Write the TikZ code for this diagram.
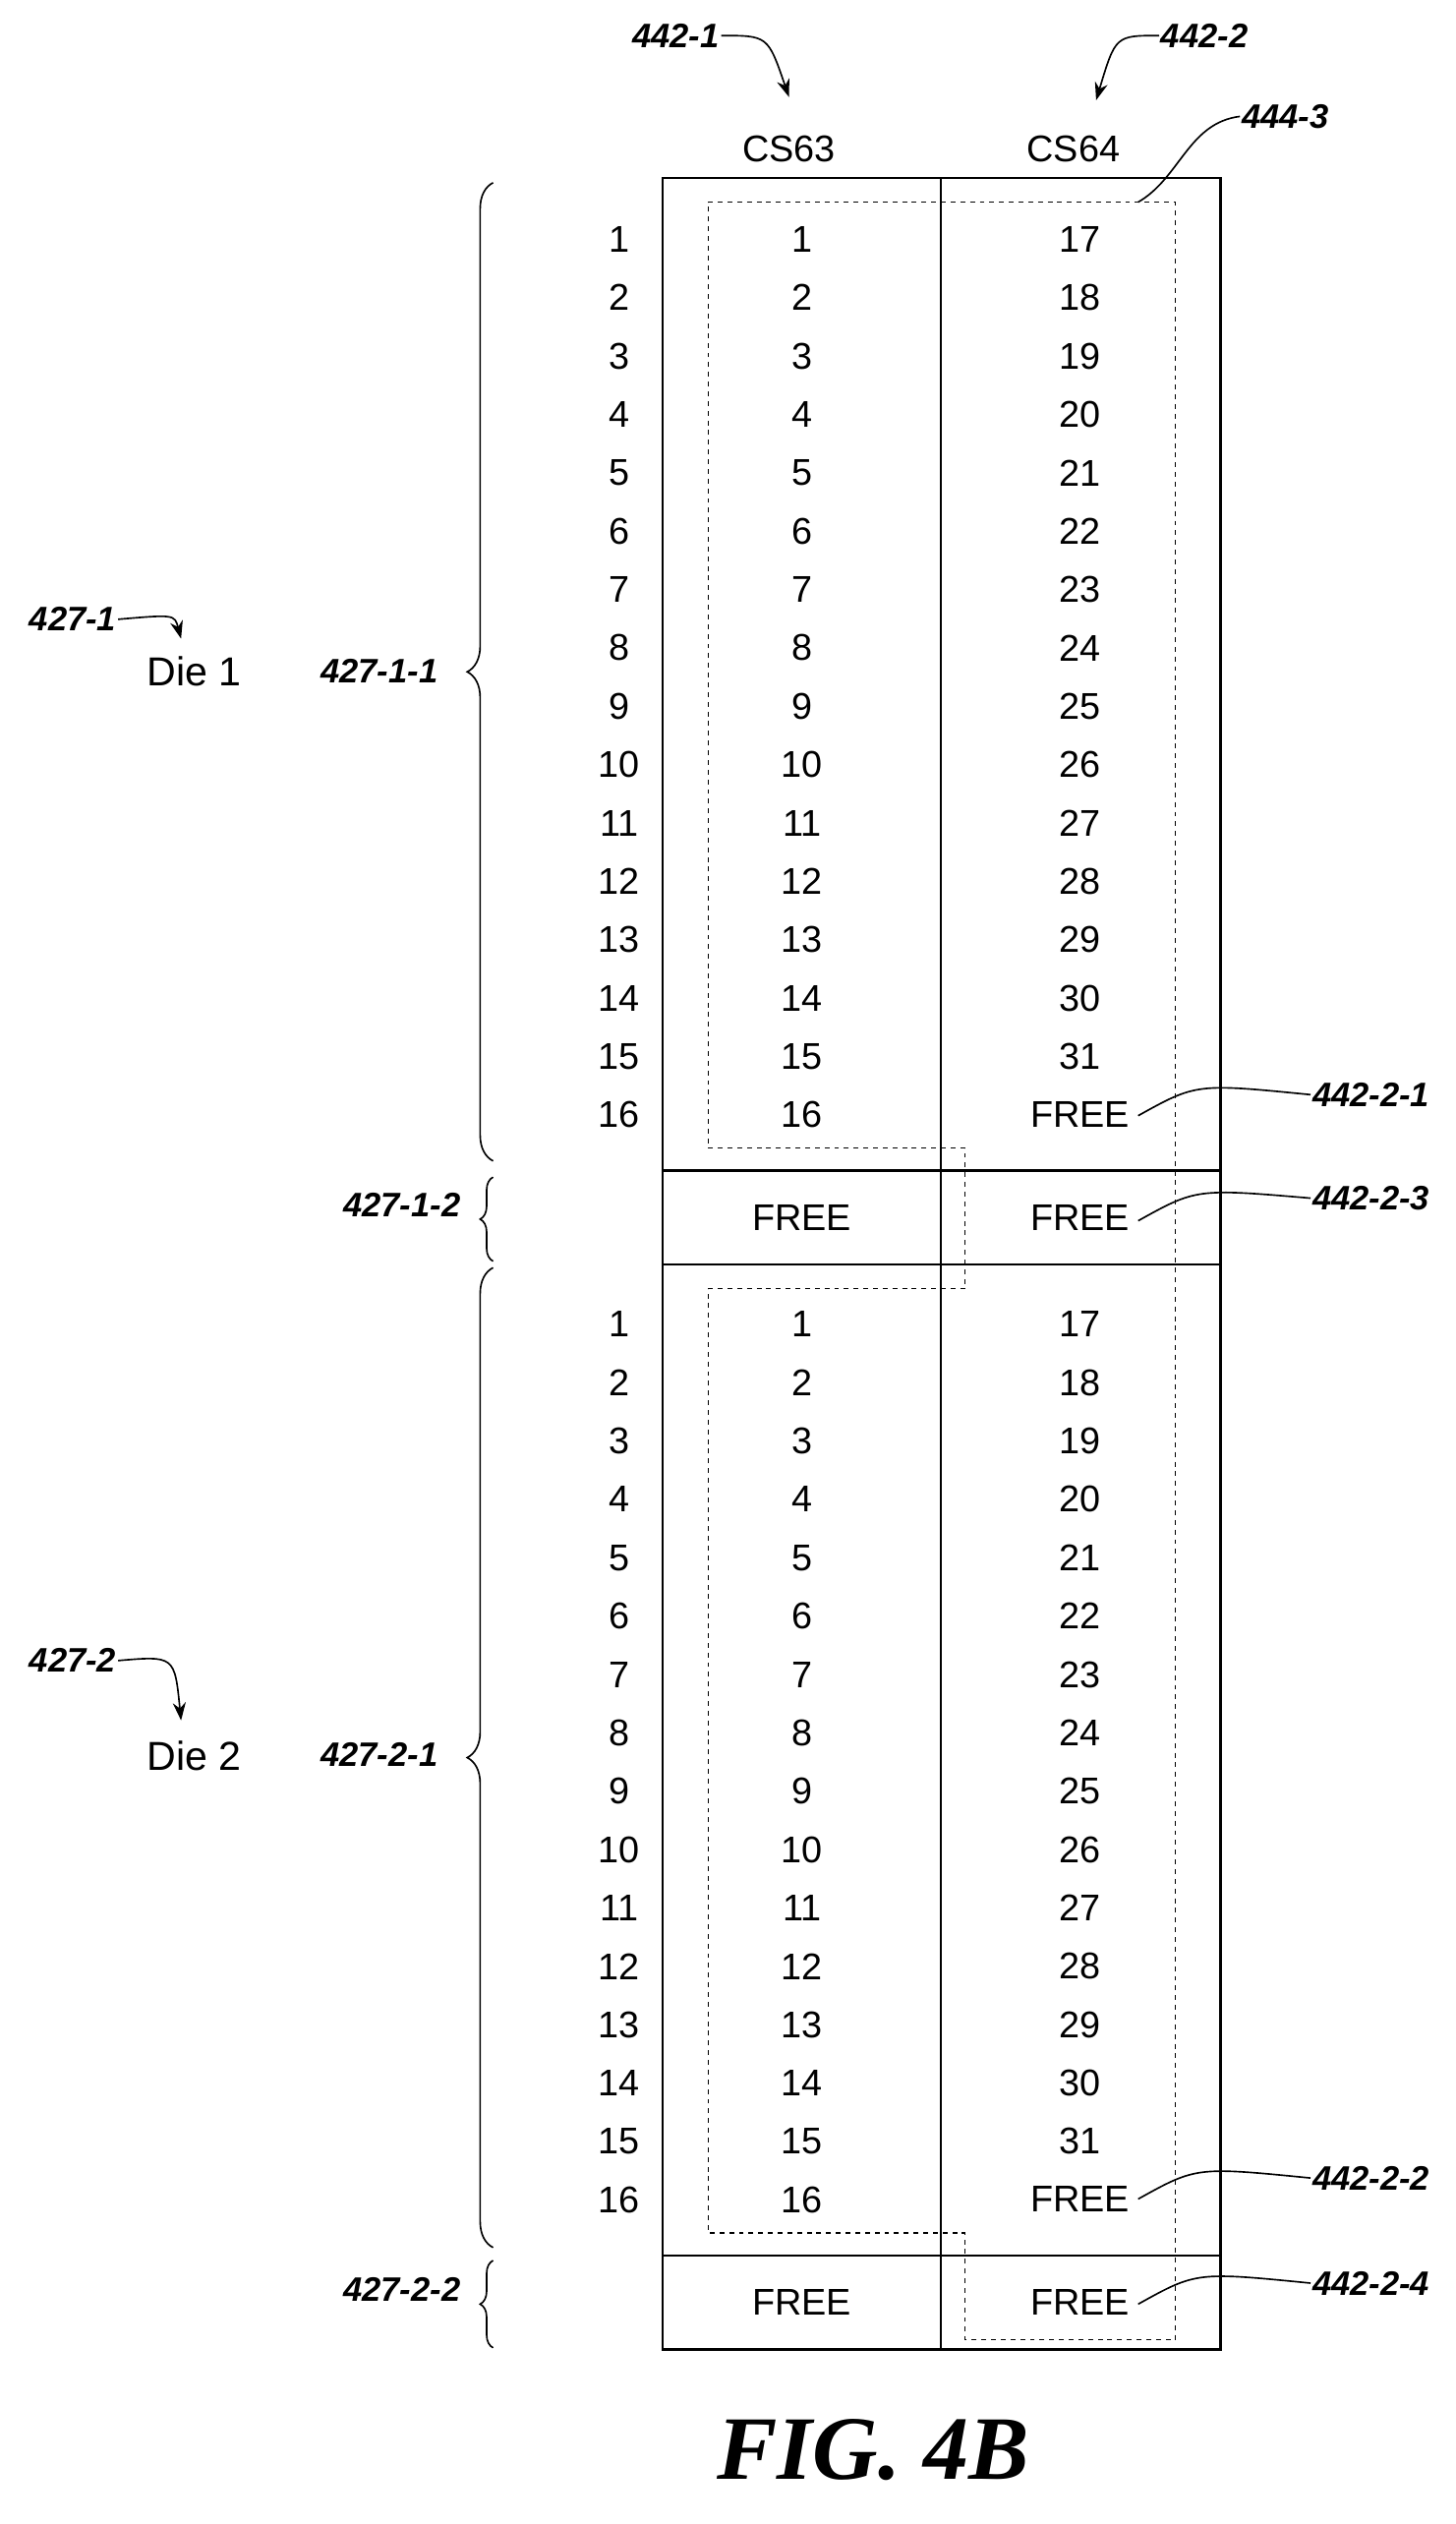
\documentclass[tikz,border=0pt]{standalone}
\usepackage{fontspec}
\setmainfont{Liberation Sans}
\newfontfamily\figfont{Liberation Serif}
\usetikzlibrary{decorations.pathreplacing,arrows.meta}
\begin{document}
\begin{tikzpicture}[x=1pt,y=-1pt,
 txt/.style={font=\fontsize{23}{23}\selectfont,inner sep=0pt},
 lab/.style={font=\fontsize{21}{21}\selectfont\bfseries\itshape,inner sep=1pt},
 brc/.style={decorate,decoration={brace,amplitude=16pt},line width=1pt},
 lead/.style={line width=1pt},
 arr/.style={line width=1pt,-{Stealth[length=11pt,width=8pt]}}]
\useasboundingbox (0,0) rectangle (900,1561);
% box
\draw[line width=1.5pt] (410,110) rectangle (755,1453);
\draw[line width=1.5pt] (582,110) -- (582,1453);
\draw[line width=1.5pt] (410,724) -- (755,724) (410,782) -- (755,782) (410,1395) -- (755,1395);
% dashed
\draw[dashed,line width=0.9pt] (438,125) -- (727,125) -- (727,1447) -- (597,1447) -- (597,1381) -- (438,1381) -- (438,797) -- (597,797) -- (597,710) -- (438,710) -- cycle;
% headers
\node[txt] (cs63) at (488,92) {CS63};
\node[txt] (cs64) at (664,92) {CS64};
% rows
\foreach \i in {1,...,16}{
 \pgfmathsetmacro\ya{148+36.1*(\i-1)}
 \pgfmathsetmacro\yb{819+36.1*(\i-1)}
 \node[txt] (la\i) at (383,\ya) {\i};
 \node[txt] (ca\i) at (496,\ya) {\i};
 \node[txt] (lb\i) at (383,\yb) {\i};
 \node[txt] (cb\i) at (496,\yb) {\i};
}
\foreach \i in {1,...,15}{
 \pgfmathtruncatemacro\v{16+\i}
 \pgfmathsetmacro\ya{148+36.1*(\i-1)}
 \pgfmathsetmacro\yb{819+36.1*(\i-1)}
 \node[txt] (da\i) at (668,\ya) {\v};
 \node[txt] (db\i) at (668,\yb) {\v};
}
\node[txt] (da16) at (668,689) {FREE};
\node[txt] (db16) at (668,1360) {FREE};
\node[txt] (fa1) at (496,753) {FREE};
\node[txt] (fa2) at (668,753) {FREE};
\node[txt] (fb1) at (496,1424) {FREE};
\node[txt] (fb2) at (668,1424) {FREE};
% top labels
\node[lab] (l4421) at (418,22) {442-1};
\node[lab] (l4422) at (745,22) {442-2};
\node[lab] (l4443) at (795,72) {444-3};
\coordinate (t1) at (488,60);
\coordinate (t2) at (678,62);
\coordinate (t3) at (704,125);
\draw[arr] (l4421.east) .. controls (475,22) .. (t1);
\draw[arr] (l4422.west) .. controls (690,22) .. (t2);
\draw[lead] (l4443.west) .. controls (735,76) and (730,110) .. (t3);
% right labels
\node[lab] (r1) at (848,677) {442-2-1};
\node[lab] (r3) at (848,741) {442-2-3};
\node[lab] (r2) at (848,1347) {442-2-2};
\node[lab] (r4) at (848,1412) {442-2-4};
\coordinate (e1) at (704,690);
\coordinate (e3) at (704,755);
\coordinate (e2) at (704,1360);
\coordinate (e4) at (704,1425);
\draw[lead] (r1.west) .. controls (740,670) .. (e1);
\draw[lead] (r3.west) .. controls (740,735) .. (e3);
\draw[lead] (r2.west) .. controls (740,1340) .. (e2);
\draw[lead] (r4.west) .. controls (740,1405) .. (e4);
% braces
\draw[brc] (305,718) -- (305,113);
\draw[brc,decoration={amplitude=8pt}] (305,780) -- (305,728);
\draw[brc] (305,1390) -- (305,784);
\draw[brc,decoration={amplitude=8pt}] (305,1452) -- (305,1398);
\node[lab,anchor=east] (b1) at (272,415) {427-1-1};
\node[lab,anchor=east] (b2) at (286,745) {427-1-2};
\node[lab,anchor=east] (b3) at (272,1085) {427-2-1};
\node[lab,anchor=east] (b4) at (286,1416) {427-2-2};
% dies
\node[font=\fontsize{25}{25}\selectfont,inner sep=0pt] (die1) at (120,415) {Die 1};
\node[font=\fontsize{25}{25}\selectfont,inner sep=0pt] (die2) at (120,1086) {Die 2};
\node[lab] (d1) at (45,383) {427-1};
\node[lab] (d2) at (45,1027) {427-2};
\coordinate (a1) at (112,395);
\coordinate (a2) at (112,1064);
\draw[arr] (d1.east) .. controls (108,380) .. (a1);
\draw[arr] (d2.east) .. controls (108,1024) .. (a2);
% fig
\node[font=\figfont\fontsize{56}{56}\selectfont\bfseries\itshape] (fig) at (540,1515) {FIG. 4B};
\end{tikzpicture}
\end{document}
